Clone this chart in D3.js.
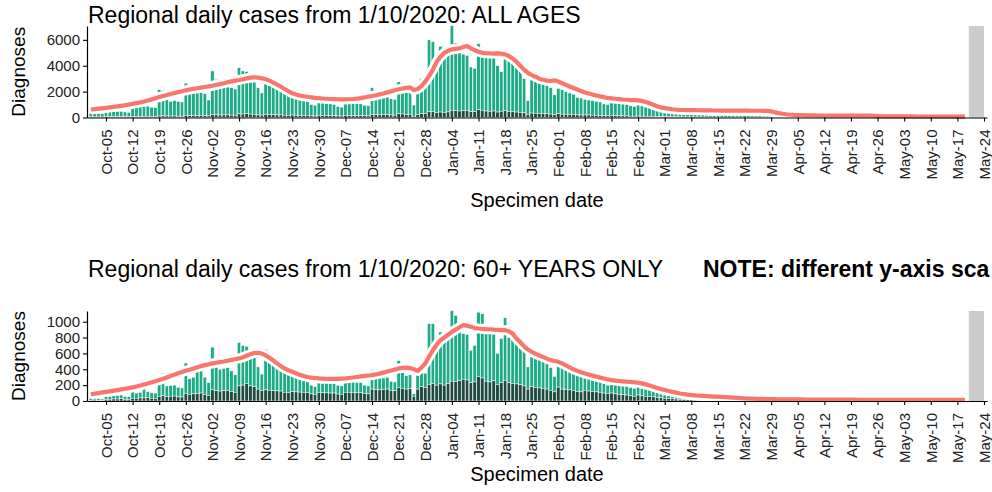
<!DOCTYPE html>
<html>
<head>
<meta charset="utf-8">
<script src="https://cdn.jsdelivr.net/npm/d3@7"></script>
<style>
  body { margin: 0; background: #fff; }
  svg { display: block; }
  text { font-family: "Liberation Sans", Arial, sans-serif; }
</style>
</head>
<body>
<svg id="chart" width="992" height="492"></svg>
<script>
// ---- data, one value per specimen day from 1 Oct 2020 ----
var firstDay = "2020-10-01";
var incompleteFrom = "2021-05-20", incompleteTo = "2021-05-24";

// all ages: total diagnoses per day and the darker lower part
var allTotal = [
  320, 340, 330, 300,
  420, 430, 450, 470, 480, 430, 400,
  750, 780, 820, 850, 880, 800, 760,
  2150, 2100, 2050, 1250, 1300, 1250, 1200,
  2650, 1850, 2400, 1900, 1950, 1850, 1350,
  3600, 2950, 2350, 2400, 2450, 2300, 2200,
  3850, 3600, 3550, 2800, 2850, 2300, 1900,
  2600, 2500, 2450, 2400, 2300, 1900, 1850,
  1850, 1750, 1650, 1550, 1500, 1000, 950,
  1250, 1200, 1100, 1050, 1000, 850, 800,
  1100, 1100, 1100, 1100, 1050, 950, 900,
  2300, 2100, 1550, 1550, 1600, 1450, 1400,
  2750, 2650, 1950, 2000, 960, 2000, 3000,
  2400, 6000, 5850, 4400, 5500, 4950, 5200,
  7100, 5750, 5000, 4900, 4800, 3900, 3800,
  5700, 5400, 4700, 4650, 4650, 4000, 3550,
  5200, 4600, 4500, 4300, 4100, 3000, 1300,
  2900, 2850, 2750, 2650, 2500, 2300, 1750,
  2250, 2150, 2000, 1900, 1800, 1550, 1500,
  1400, 1350, 1300, 1250, 1200, 1050, 1000,
  1250, 1200, 1150, 1100, 1050, 900, 850,
  1000, 900, 800, 750, 700, 550, 500,
  450, 400, 380, 350, 330, 280, 260,
  230, 220, 210, 200, 190, 160, 150,
  170, 160, 160, 150, 150, 130, 120,
  140, 130, 130, 120, 120, 100, 100,
  100, 90, 90, 80, 60, 40, 30
];
var allDark = [
  40, 45, 40, 35,
  50, 55, 60, 60, 65, 55, 50,
  70, 75, 80, 85, 90, 80, 75,
  110, 120, 115, 110, 115, 100, 95,
  170, 140, 150, 150, 160, 140, 120,
  220, 200, 190, 195, 200, 180, 170,
  280, 270, 290, 260, 250, 200, 180,
  240, 220, 210, 200, 195, 170, 160,
  190, 180, 170, 165, 160, 120, 110,
  170, 160, 150, 150, 145, 120, 110,
  160, 155, 150, 150, 145, 130, 120,
  230, 220, 200, 210, 215, 190, 180,
  300, 270, 230, 240, 100, 230, 300,
  300, 450, 440, 380, 420, 400, 430,
  560, 520, 500, 520, 540, 450, 460,
  600, 560, 500, 480, 500, 420, 480,
  520, 460, 440, 420, 400, 360, 250,
  340, 330, 320, 300, 290, 260, 200,
  300, 260, 250, 240, 230, 200, 190,
  200, 190, 180, 170, 160, 140, 130,
  170, 140, 130, 125, 120, 100, 95,
  110, 100, 95, 90, 85, 70, 65,
  60, 55, 50, 48, 45, 40, 35,
  32, 30, 28, 27, 26, 22, 20,
  22, 21, 20, 19, 18, 16, 15,
  16, 15, 15, 14, 14, 12, 12,
  12, 11, 10, 10, 8, 6, 5
];
// all ages: rolling average line
var allAvg = [
  620, 650, 680, 710,
  740, 780, 820, 860, 900, 950, 1000,
  1050, 1110, 1170, 1240, 1320, 1400, 1490,
  1580, 1660, 1740, 1820, 1890, 1960, 2030,
  2100, 2160, 2210, 2260, 2310, 2360, 2400,
  2450, 2520, 2580, 2650, 2720, 2790, 2850,
  2900, 2960, 3020, 3080, 3100, 3080, 3030,
  2950, 2850, 2700, 2550, 2380, 2200, 2030,
  1870, 1780, 1700, 1640, 1600, 1560, 1520,
  1490, 1470, 1450, 1430, 1420, 1410, 1400,
  1400, 1410, 1430, 1460, 1500, 1550, 1610,
  1660, 1720, 1790, 1860, 1940, 2020, 2100,
  2180, 2240, 2290, 2330, 2120, 2200, 2430,
  2770, 3200, 3700, 4310, 4700, 5000, 5150,
  5270, 5300, 5340, 5450, 5520, 5350, 5200,
  5080, 5000, 4970, 4950, 4940, 4960, 4930,
  4880, 4750, 4550, 4310, 4000, 3700, 3450,
  3280, 3150, 3000, 2920, 2850, 2820, 2870,
  2780, 2650, 2520, 2400, 2280, 2160, 2040,
  1940, 1850, 1770, 1700, 1630, 1570, 1510,
  1480, 1450, 1420, 1390, 1370, 1350, 1340,
  1320, 1280, 1200, 1100, 980, 870, 780,
  720, 680, 640, 610, 590, 580, 575,
  570, 565, 560, 555, 550, 545, 540,
  540, 535, 535, 530, 530, 530, 525,
  525, 525, 520, 520, 520, 515, 510,
  470, 400, 340, 290, 250, 220, 200,
  190, 180, 170, 165, 160, 155, 150,
  150, 150, 150, 148, 146, 145, 145,
  145, 145, 144, 143, 142, 140, 130,
  110, 95, 90, 85, 85, 80, 80,
  80, 80, 80, 78, 78, 78, 78,
  78, 78, 76, 76, 76, 76, 76,
  75, 75, 75
];

// 60+ years: total diagnoses per day and the darker lower part
var oldTotal = [
  35, 40, 30, 25,
  165, 60, 65, 70, 75, 60, 55,
  195, 100, 110, 240, 120, 105, 100,
  300, 350, 190, 195, 200, 175, 165,
  480, 280, 300, 430, 440, 300, 230,
  680, 530, 400, 410, 420, 380, 330,
  740, 700, 690, 550, 560, 430, 340,
  650, 520, 500, 480, 460, 400, 380,
  340, 320, 300, 290, 280, 200, 180,
  340, 250, 250, 240, 240, 200, 190,
  250, 240, 314, 235, 230, 200, 190,
  400, 390, 290, 290, 300, 250, 240,
  510, 420, 320, 330, 90, 330, 450,
  350, 975, 975, 690, 870, 770, 830,
  1140, 1080, 1000, 850, 840, 640, 700,
  1120, 1100, 860, 850, 850, 600, 790,
  1050, 800, 780, 750, 700, 650, 430,
  560, 540, 520, 500, 470, 420, 310,
  545, 430, 420, 400, 380, 340, 320,
  290, 280, 270, 260, 250, 220, 200,
  310, 220, 210, 200, 190, 170, 160,
  180, 160, 150, 140, 130, 110, 100,
  75, 65, 60, 55, 50, 40, 35,
  35, 30, 28, 26, 24, 20, 18,
  16, 15, 14, 13, 12, 10, 10,
  10, 9, 9, 8, 8, 7, 7,
  6, 6, 5, 5, 4, 3, 2
];
var oldDark = [
  10, 12, 10, 8,
  20, 22, 25, 25, 28, 22, 20,
  35, 35, 38, 40, 42, 35, 32,
  60, 65, 58, 60, 62, 52, 50,
  95, 85, 90, 95, 100, 85, 70,
  140, 130, 125, 130, 135, 120, 110,
  190, 200, 220, 190, 180, 150, 130,
  140, 135, 130, 128, 125, 110, 105,
  118, 115, 112, 110, 108, 90, 85,
  110, 105, 102, 100, 100, 88, 85,
  110, 108, 110, 108, 105, 95, 90,
  150, 145, 140, 145, 150, 135, 130,
  170, 160, 150, 155, 60, 150, 180,
  170, 210, 220, 200, 215, 200, 220,
  250, 245, 255, 275, 265, 230, 240,
  310, 290, 250, 240, 255, 210, 230,
  260, 230, 220, 215, 205, 190, 150,
  180, 170, 165, 160, 150, 135, 115,
  175, 150, 145, 140, 135, 120, 115,
  135, 125, 120, 115, 110, 100, 95,
  100, 90, 85, 80, 75, 65, 60,
  75, 65, 60, 55, 52, 45, 40,
  35, 30, 28, 25, 22, 18, 15,
  15, 13, 12, 11, 10, 8, 7,
  7, 6, 6, 5, 5, 4, 4,
  4, 4, 3, 3, 3, 3, 2,
  2, 2, 2, 2, 1, 1, 1
];
var oldAvg = [
  85, 92, 100, 108,
  115, 122, 130, 138, 146, 155, 163,
  172, 183, 195, 208, 222, 236, 250,
  264, 280, 297, 315, 333, 350, 366,
  381, 395, 410, 425, 440, 452, 463,
  474, 482, 490, 498, 508, 518, 527,
  537, 552, 570, 590, 605, 608, 598,
  575, 545, 510, 475, 440, 410, 388,
  369, 350, 330, 315, 303, 295, 290,
  285, 282, 280, 278, 278, 280, 282,
  285, 290, 296, 303, 310, 316, 322,
  327, 335, 345, 358, 372, 385, 398,
  411, 418, 420, 415, 400, 380, 420,
  474, 560, 640, 710, 767, 800, 835,
  872, 900, 930, 956, 950, 935, 920,
  914, 910, 905, 905, 900, 898, 895,
  893, 880, 850, 789, 740, 690, 650,
  620, 595, 575, 555, 535, 515, 505,
  494, 475, 450, 425, 400, 380, 362,
  348, 335, 320, 308, 295, 283, 272,
  264, 257, 252, 247, 243, 240, 236,
  232, 222, 210, 195, 180, 165, 150,
  138, 126, 115, 105, 95, 88, 80,
  75, 70, 67, 64, 61, 58, 56,
  55, 52, 48, 45, 42, 39, 36,
  33, 31, 29, 28, 27, 26, 25,
  24, 23, 22, 21, 21, 20, 20,
  20, 20, 19, 19, 19, 18, 18,
  18, 18, 18, 17, 17, 17, 17,
  17, 17, 16, 16, 16, 16, 16,
  16, 15, 15, 15, 15, 15, 15,
  15, 15, 15, 15, 15, 15, 15,
  15, 15, 15, 15, 15, 15, 15,
  15, 15, 15
];

var allTicks = [0, 2000, 4000, 6000];
var oldTicks = [0, 200, 400, 600, 800, 1000];
var allTitle = "Regional daily cases from 1/10/2020: ALL AGES";
var oldTitle = "Regional daily cases from 1/10/2020: 60+ YEARS ONLY";
var noteText = "NOTE: different y-axis sca"; // the reference cuts it off at the right edge

// ---- drawing ----
var svg = d3.select("#chart");
var parse = d3.utcParse("%Y-%m-%d");
var start = parse(firstDay);
function dayOf(i) { return d3.utcDay.offset(start, i); }

var x = d3.scaleUtc()
  .domain([parse("2020-09-30"), d3.utcHour.offset(parse("2021-05-24"), 19)])
  .range([87, 987]);

var teal = "#1fab88", dark = "#1f4a3f", red = "#f8766d";
var barW = 3.42;

function drawPanel(p) {
  var y = d3.scaleLinear().domain([0, p.yMax]).range([p.bottom, p.top]);
  var g = svg.append("g");

  var rows = p.total.map(function(t, i) { return { date: dayOf(i), total: t, dark: p.dark[i] }; });

  // teal part (from dark top to total)
  g.selectAll(".tealbar").data(rows).enter().append("rect")
    .attr("x", function(d) { return x(d.date) - barW / 2; })
    .attr("width", barW)
    .attr("y", function(d) { return y(d.total); })
    .attr("height", function(d) { return y(d.dark) - y(d.total); })
    .attr("fill", teal).attr("stroke", "#fff").attr("stroke-width", 0.5);
  // dark part
  g.selectAll(".darkbar").data(rows).enter().append("rect")
    .attr("x", function(d) { return x(d.date) - barW / 2; })
    .attr("width", barW)
    .attr("y", function(d) { return y(d.dark); })
    .attr("height", function(d) { return y(0) - y(d.dark); })
    .attr("fill", dark).attr("stroke", "#fff").attr("stroke-width", 0.5);

  // average line with white halo
  var line = d3.line()
    .x(function(d, i) { return x(dayOf(i)); })
    .y(function(d) { return y(d); });
  g.append("path").datum(p.avg).attr("d", line)
    .attr("fill", "none").attr("stroke", "#fff").attr("stroke-width", 10)
    .attr("stroke-linejoin", "round");
  g.append("path").datum(p.avg).attr("d", line)
    .attr("fill", "none").attr("stroke", red).attr("stroke-width", 4.2)
    .attr("stroke-linejoin", "round");

  // incomplete days
  g.append("rect")
    .attr("x", x(parse(incompleteFrom)))
    .attr("width", x(parse(incompleteTo)) - x(parse(incompleteFrom)))
    .attr("y", p.top).attr("height", p.bottom - p.top)
    .attr("fill", "#cccccc");

  // axes
  var xAxis = d3.axisBottom(x)
    .ticks(d3.utcMonday.every(1))
    .tickFormat(d3.utcFormat("%b-%d"))
    .tickSize(4).tickSizeOuter(0);
  var xg = g.append("g").attr("transform", "translate(0," + p.bottom + ")").call(xAxis);
  xg.selectAll(".tick text")
    .attr("transform", "rotate(-90)")
    .attr("x", -12).attr("y", 0).attr("dy", "0.35em")
    .style("text-anchor", "end");

  var yAxis = d3.axisLeft(y).tickValues(p.ticks).tickFormat(d3.format("d"))
    .tickSize(4).tickSizeOuter(0).tickPadding(3);
  var yg = g.append("g").attr("transform", "translate(87,0)").call(yAxis);

  [xg, yg].forEach(function(a) {
    a.select(".domain").attr("stroke", "#000").attr("stroke-width", 1.2);
    a.selectAll(".tick line").attr("stroke", "#000").attr("stroke-width", 1.1);
    a.selectAll(".tick text").attr("fill", "#222").style("font-size", "15px")
      .style("font-family", "'Liberation Sans', Arial, sans-serif");
  });

  // titles
  g.append("text").attr("x", 88).attr("y", p.titleY)
    .style("font-size", "23px").attr("fill", "#000").text(p.title);
  g.append("text")
    .attr("transform", "translate(25," + ((p.top + p.bottom) / 2) + ") rotate(-90)")
    .style("text-anchor", "middle").style("font-size", "19px").attr("fill", "#000")
    .text("Diagnoses");
  g.append("text").attr("x", 537).attr("y", p.xTitleY)
    .style("text-anchor", "middle").style("font-size", "20px").attr("fill", "#000")
    .text("Specimen date");
}

drawPanel({ total: allTotal, dark: allDark, avg: allAvg, yMax: 7070, ticks: allTicks,
  top: 26, bottom: 117.5, title: allTitle, titleY: 23, xTitleY: 207 });
drawPanel({ total: oldTotal, dark: oldDark, avg: oldAvg, yMax: 1135, ticks: oldTicks,
  top: 311, bottom: 401, title: oldTitle, titleY: 277, xTitleY: 481 });

svg.append("text").attr("x", 703).attr("y", 277)
  .style("font-size", "23px").style("font-weight", "bold").attr("fill", "#000")
  .text(noteText);
</script>
</body>
</html>
